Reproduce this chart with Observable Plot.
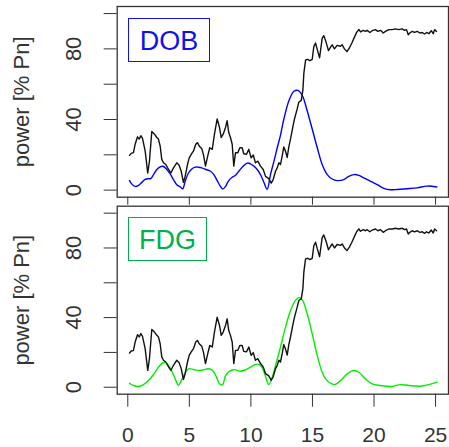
<!DOCTYPE html>
<html>
<head>
<meta charset="utf-8">
<script src="https://cdn.jsdelivr.net/npm/d3@7"></script>
<script src="https://cdn.jsdelivr.net/npm/@observablehq/plot@0.6"></script>
<style>
  html, body { margin: 0; padding: 0; background: #fff; }
  #wrap { position: relative; width: 449px; height: 447px; font-family: "Liberation Sans", Arial, sans-serif; }
  #wrap svg { position: absolute; left: 0; }
  .legend { position: absolute; box-sizing: border-box; display: flex; align-items: center; justify-content: center; font-size: 27px; line-height: 1; padding-top: 3px; }
</style>
</head>
<body>
<div id="wrap"></div>
<script>
// Black line: power [% Pn] over time
const powerX = [0.14,0.28,0.46,0.6,0.79,0.93,1.06,1.19,1.41,1.62,1.76,1.95,2.17,2.36,2.49,2.63,2.76,2.9,3.09,3.31,3.5,3.71,3.98,4.17,4.34,4.52,4.66,4.85,4.99,5.15,5.34,5.52,5.66,5.8,6.01,6.15,6.31,6.5,6.66,6.86,7.04,7.26,7.45,7.59,7.75,7.94,8.07,8.2,8.34,8.48,8.61,8.75,8.94,9.1,9.29,9.42,9.64,9.83,10.02,10.19,10.37,10.56,10.78,11.0,11.19,11.45,11.65,11.81,12.0,12.14,12.27,12.4,12.54,12.67,12.81,12.95,13.08,13.22,13.4,13.54,13.76,13.89,14.09,14.22,14.3,14.44,14.62,14.79,14.98,15.11,15.25,15.39,15.58,15.79,15.92,16.1,16.3,16.47,16.6,16.79,17.0,17.28,17.41,17.6,17.8,18.0,18.2,18.4,18.6,18.77,18.9,19.12,19.31,19.45,19.66,19.85,20.12,20.31,20.53,20.75,20.93,21.2,21.48,21.75,22.01,22.29,22.48,22.64,22.78,22.91,23.1,23.29,23.51,23.72,23.92,24.1,24.27,24.45,24.65,24.81,24.92,25.08];
const powerY = [19.7,20.8,21.2,26,30.2,28.9,30.8,29.4,22.2,9.7,16.4,33.2,31.7,29.8,28.9,25,17.4,15.5,14.5,11.7,9.7,12.6,15.5,14.1,10.7,4.4,7.8,14.5,18.3,20.3,22.2,26,26.9,25,23.5,20,13.6,19.5,24,23.1,31.7,40.3,35.5,29.8,31.7,35.5,39.3,32.6,29.8,26,13.6,21.2,21.2,24,24,20.6,20.3,23.1,18.3,19.9,15.5,16.4,13.6,11.7,7.8,6.5,4,6,10.7,12.6,15.5,14.5,19.3,24.5,22,18.5,24.5,29,35.5,40.3,46,49.8,50.8,56.5,66.1,73.7,74.1,73.3,74,81.3,83.3,79.6,75,86,87.5,84,79,81,82.3,80,82,81.5,82.3,80,78.5,80.5,83.3,86.5,89.5,91,89.6,90.5,89.9,90.5,89.3,90.3,90.9,89.9,90.5,89,89.9,90.9,90.9,91.3,90.9,91.3,90.5,90.9,88,89,89.9,89.3,89.9,89,89.3,88.4,89.3,88.6,90.3,88.6,90.9,89.9];

// Blue line: DOB
const dobX = [0.14,0.33,0.6,0.87,1.14,1.41,1.68,1.87,2.09,2.36,2.63,2.9,3.17,3.44,3.71,3.98,4.26,4.47,4.66,4.93,5.2,5.48,5.74,6.01,6.34,6.72,6.99,7.26,7.53,7.72,7.94,8.2,8.48,8.75,9.02,9.29,9.7,9.97,10.24,10.51,10.78,11.05,11.32,11.59,11.86,12.14,12.4,12.67,13.08,13.49,13.81,14.17,14.57,14.98,15.39,15.79,16.2,16.6,17.01,17.55,17.95,18.36,18.77,19.17,19.72,20.26,20.8,21.34,21.88,22.7,23.51,24.32,25.1];
const dobY = [5.4,3.4,2.1,2.7,4.4,6.1,6.5,6.5,8.8,11.7,13.2,13.4,11.7,9.2,6,3.1,1.9,0.8,5,9.7,12,13,13,12.6,11.7,10.7,8.8,5.4,2.1,0.6,2.1,5.4,7.3,8.4,10.7,13,15.3,14.9,13.6,11.7,8.8,4.5,0.5,8.8,16,24,31,40,50.5,56,56.5,53.7,45,34.6,24,14.5,8.8,6.3,5.4,6,7.8,8.8,8.4,6.9,5,3.1,1,0.2,0.4,0.8,1.3,2.3,1.8];

// Green line: FDG
const fdgX = [0.14,0.46,0.87,1.28,1.68,2.09,2.49,2.9,3.09,3.31,3.58,3.85,4.12,4.34,4.61,4.93,5.34,5.74,6.15,6.5,6.82,7.15,7.45,7.7,7.94,8.34,8.75,9.15,9.56,9.97,10.37,10.64,10.92,11.19,11.45,11.73,12.0,12.4,12.81,13.22,13.62,13.89,14.17,14.57,14.98,15.39,15.79,16.1,16.47,16.79,17.28,17.82,18.36,18.77,19.31,19.85,20.53,21.34,22.15,22.83,23.78,24.45,25.13];
const fdgY = [2.3,1,0.4,1.5,3.8,7.3,11.5,14.2,14.2,12.5,9.2,4.8,1,3.8,7.7,10.6,10.2,9.6,10,10.6,10,6.7,2,1.5,6.7,9.6,10,9.2,10,11.5,13.1,13.1,11.2,6.2,1.5,5.8,12.5,23,34.5,44.1,49.9,51.5,50.3,42.2,30.7,18.2,8.6,4.5,2.3,1.5,3.8,7.7,9.6,8.6,4.8,1.9,1,0.4,1.5,1,0.6,1.5,2.9];

// Axis ticks and labels
const xTicks = [0, 5, 10, 15, 20, 25];
const yTicks = [0, 20, 40, 60, 80, 100];
const yTickLabels = [0, 40, 80];
const yTitle = ["power [% Pn]"];
const legendNames = ["DOB", "FDG"];

const FONT = '"Liberation Sans", Arial, sans-serif';
const AXIS = "#333";
const X_DOMAIN = [-0.86, 26.05];
const Y_DOMAIN = [-4, 104];

function panel(cx, cy, color, opts) {
  const pIdx = d3.range(powerX.length);
  const cIdx = d3.range(cx.length);
  const yMid = (Y_DOMAIN[0] + Y_DOMAIN[1]) / 2;
  return Plot.plot({
    width: 449,
    height: opts.height,
    marginLeft: 116.7,
    marginRight: 1,
    marginTop: opts.marginTop,
    marginBottom: opts.marginBottom,
    style: { fontFamily: FONT, fontSize: "21px", color: AXIS, background: "transparent", overflow: "visible" },
    x: { domain: X_DOMAIN, ticks: xTicks, tickSize: opts.xTickSize, tickPadding: 20,
         tickFormat: opts.xLabels ? (d => String(d)) : (() => ""), label: null },
    y: { domain: Y_DOMAIN, ticks: yTicks, tickSize: 13, tickFormat: () => "", label: null },
    marks: [
      Plot.line(cIdx, { x: i => cx[i], y: i => cy[i], stroke: color, strokeWidth: 1.4, curve: "catmull-rom" }),
      Plot.line(pIdx, { x: i => powerX[i], y: i => powerY[i], stroke: "#111", strokeWidth: 1.4 }),
      Plot.frame({ stroke: AXIS, strokeWidth: 1.3 }),
      Plot.text(yTickLabels, { y: d => d, text: d => String(d), frameAnchor: "left", textAnchor: "middle", lineAnchor: "middle", dx: -43, rotate: -90, fontSize: 22, fill: AXIS }),
      Plot.text(yTitle, { y: () => yMid, text: d => d, frameAnchor: "left", textAnchor: "middle", lineAnchor: "middle", dx: -95, rotate: -90, fontSize: 22, fill: AXIS })
    ]
  });
}

const wrap = document.getElementById("wrap");
const topPanel = panel(dobX, dobY, "#0000ff", { height: 205, marginTop: 6, marginBottom: 8.3, xTickSize: 8, xLabels: false });
topPanel.style.top = "0px";
wrap.appendChild(topPanel);
const bottomPanel = panel(fdgX, fdgY, "#00ee00", { height: 242, marginTop: 0.7, marginBottom: 53.3, xTickSize: 13, xLabels: true });
bottomPanel.style.top = "205px";
wrap.appendChild(bottomPanel);

function legend(name, color, left, topPx, w, h) {
  const d = document.createElement("div");
  d.className = "legend";
  d.textContent = name;
  d.style.left = left + "px";
  d.style.top = topPx + "px";
  d.style.width = w + "px";
  d.style.height = h + "px";
  d.style.color = color;
  d.style.border = "1.5px solid " + color;
  wrap.appendChild(d);
}
legend(legendNames[0], "#1010f0", 128, 18, 82, 44);
legend(legendNames[1], "#00b04a", 128, 217, 79, 44);
</script>
</body>
</html>
